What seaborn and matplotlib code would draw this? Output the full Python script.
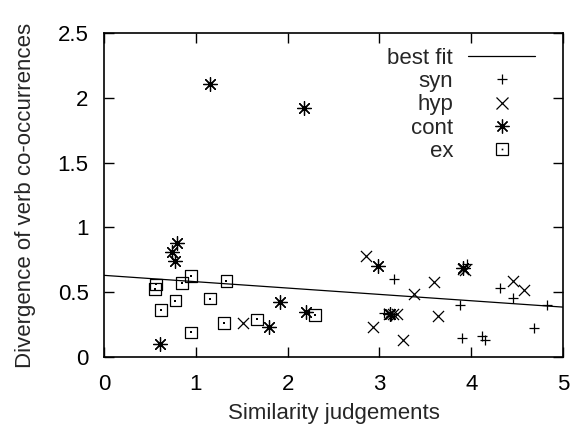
import matplotlib
matplotlib.use("Agg")
import matplotlib.pyplot as plt
import seaborn as sns
import numpy as np
import pandas as pd
from matplotlib.lines import Line2D

# Similarity judgement (x) vs. divergence of verb co-occurrences (y), by relation type
syn_x = [3.16, 3.95, 3.88, 3.90, 4.12, 4.15, 4.31, 4.46, 4.68, 4.83, 3.05, 3.13]
syn_y = [0.60, 0.715, 0.40, 0.15, 0.165, 0.13, 0.53, 0.455, 0.22, 0.40, 0.34, 0.32]

hyp_x = [2.85, 3.38, 3.60, 2.93, 3.26, 3.64, 3.91, 3.93, 4.46, 4.57, 3.10, 3.15, 3.19, 1.51]
hyp_y = [0.78, 0.485, 0.575, 0.235, 0.13, 0.315, 0.68, 0.67, 0.585, 0.515, 0.335, 0.335, 0.335, 0.26]

cont_x = [0.80, 0.745, 0.77, 0.615, 1.92, 1.80, 2.20, 2.98, 3.115, 3.914, 1.155, 2.18]
cont_y = [0.88, 0.81, 0.74, 0.10, 0.425, 0.235, 0.35, 0.70, 0.33, 0.685, 2.11, 1.92]

ex_x = [0.564, 0.556, 0.618, 0.777, 0.85, 0.947, 0.95, 1.153, 1.334, 1.31, 1.667, 2.30]
ex_y = [0.56, 0.525, 0.365, 0.435, 0.57, 0.625, 0.19, 0.45, 0.585, 0.26, 0.29, 0.325]

# Best-fit line parameters
fit_intercept = 0.63
fit_slope = -0.049
fit_x = [0, 5]

x_ticks = [0, 1, 2, 3, 4, 5]
y_ticks = [0, 0.5, 1, 1.5, 2, 2.5]
y_tick_labels = ["0", "0.5", "1", "1.5", "2", "2.5"]

sns.set_theme(style="ticks")
plt.rcParams["font.family"] = ["Liberation Sans", "DejaVu Sans"]
plt.rcParams["axes.linewidth"] = 1.2

FS = 16
fig = plt.figure(figsize=(5.72, 4.28), dpi=100)
ax = fig.add_axes([104 / 572, 1 - 357 / 428, 459 / 572, 324 / 428])

fit_df = pd.DataFrame({"x": fit_x})
fit_df["y"] = fit_intercept + fit_slope * fit_df["x"]
sns.lineplot(data=fit_df, x="x", y="y", color="black", linewidth=0.9, ax=ax)

sns.scatterplot(x=syn_x, y=syn_y, marker="+", s=56, color="black",
                linewidth=0.9, ax=ax)
sns.scatterplot(x=hyp_x, y=hyp_y, marker="x", s=64, color="black",
                linewidth=0.9, ax=ax)
sns.scatterplot(x=cont_x, y=cont_y, marker=(8, 2, 0), s=100, color="black",
                linewidth=0.9, ax=ax)
sns.scatterplot(x=ex_x, y=ex_y, marker="s", s=70, facecolor="none",
                edgecolor="black", linewidth=0.9, ax=ax)
sns.scatterplot(x=ex_x, y=ex_y, marker="s", s=1.5, color="black",
                linewidth=0, ax=ax)

ax.set_xlim(0, 5)
ax.set_ylim(0, 2.5)
ax.set_xticks(x_ticks)
ax.set_xticklabels([str(t) for t in x_ticks])
ax.set_yticks(y_ticks)
ax.set_yticklabels(y_tick_labels)
ax.tick_params(direction="in", length=7, width=1.0, top=True, right=True,
               labelsize=FS, colors="black")
ax.tick_params(axis="x", pad=12)
ax.tick_params(axis="y", pad=11)
for sp in ax.spines.values():
    sp.set_visible(True)
    sp.set_color("black")

ax.set_xlabel("Similarity judgements", fontsize=FS, labelpad=6)
ax.set_ylabel("Divergence of verb co-occurrences", fontsize=FS, labelpad=16)

handles = [
    Line2D([], [], color="black", linewidth=0.9),
    Line2D([], [], ls="none", marker="+", markersize=7.5, color="black", mew=0.9),
    Line2D([], [], ls="none", marker="x", markersize=8, color="black", mew=0.9),
    Line2D([], [], ls="none", marker=(8, 2, 0), markersize=10, color="black", mew=0.9),
    (Line2D([], [], ls="none", marker="s", markersize=8.4, mfc="none",
            mec="black", mew=0.9),
     Line2D([], [], ls="none", marker="s", markersize=1.2, color="black", mew=0)),
]
labels = ["best fit", "syn", "hyp", "cont", "ex"]
leg = ax.legend(handles, labels, loc="upper right",
                bbox_to_anchor=(431 / 459, 309 / 324), frameon=False,
                markerfirst=False, fontsize=FS, handlelength=3.0,
                handletextpad=0.68, labelspacing=0.1, borderpad=0,
                borderaxespad=0)
for column in leg._legend_handle_box.get_children():
    column.align = "right"

fig.savefig("out.png", dpi=100)
